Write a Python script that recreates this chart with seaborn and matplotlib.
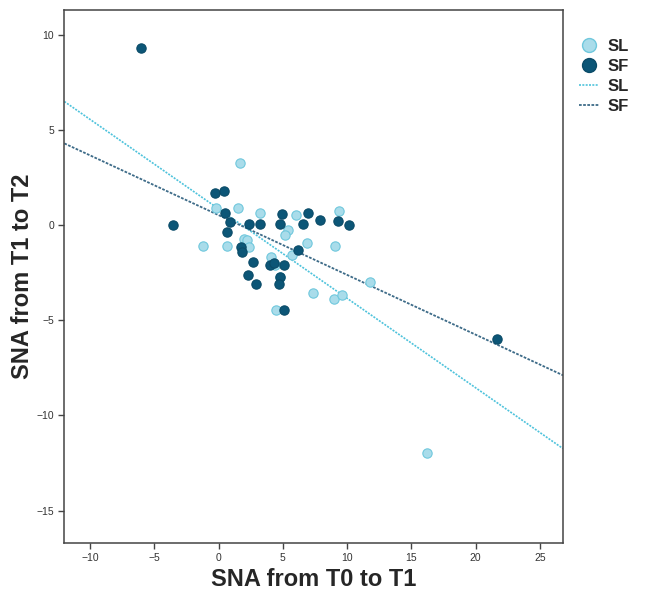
import matplotlib
matplotlib.use("Agg")
import matplotlib.pyplot as plt
import seaborn as sns
import pandas as pd
from matplotlib.lines import Line2D

# data (SNA change T0->T1 vs T1->T2)
sl_x = [1.66, -0.23, 1.5, 3.2, 6.0, 9.36, 5.4, 5.2, -1.19, 0.67, 1.97, 2.2, 2.36,
        6.9, 9.05, 5.68, 4.1, 4.43, 4.8, 7.33, 9.0, 9.6, 11.77, 4.5, 16.2]
sl_y = [3.25, 0.88, 0.91, 0.65, 0.53, 0.74, -0.23, -0.53, -1.1, -1.1, -0.7, -0.79, -1.14,
        -0.96, -1.1, -1.58, -1.67, -2.1, -2.7, -3.54, -3.86, -3.65, -2.98, -4.47, -11.95]
sf_x = [-6.07, -0.26, 0.41, 0.54, 0.93, 0.67, 2.36, 3.19, 4.95, 4.82, 6.97, 6.58, 7.93,
        9.28, 10.13, 1.71, 1.84, 6.17, 2.7, 4.04, 4.35, 5.08, 4.82, 4.69, 2.31, 2.95,
        5.13, -3.58, 21.7]
sf_y = [9.3, 1.67, 1.8, 0.65, 0.18, -0.35, 0.04, 0.04, 0.58, 0.04, 0.65, 0.04, 0.26,
        0.21, 0.0, -1.14, -1.4, -1.28, -1.93, -2.1, -2.0, -2.1, -2.72, -3.1, -2.6, -3.07,
        -4.47, 0.0, -6.0]

# fitted lines (intercept, slope)
sl_fit = (0.86, -0.47)
sf_fit = (0.53, -0.314)

groups = ["SL", "SF"]
fill = {"SL": "#a9dcea", "SF": "#0c5677"}
edge = {"SL": "#70c8dd", "SF": "#0a4b68"}
line_col = {"SL": "#4fc3dc", "SF": "#3d6b88"}

df = pd.DataFrame({
    "x": sl_x + sf_x,
    "y": sl_y + sf_y,
    "group": ["SL"] * len(sl_x) + ["SF"] * len(sf_x),
})

sns.set_style("ticks")
plt.rcParams["font.family"] = ["Liberation Sans", "DejaVu Sans"]

fig = plt.figure(figsize=(6.5, 5.98), dpi=100)
ax = fig.add_axes([0.099, 0.092, 0.767, 0.891])

for g in groups:
    sub = df[df["group"] == g]
    sns.scatterplot(data=sub, x="x", y="y", ax=ax, color=fill[g], edgecolor=edge[g],
                    linewidth=0.8, s=45, zorder=3, legend=False)

ax.axline((0, sl_fit[0]), slope=sl_fit[1], color=line_col["SL"], lw=1.2,
          linestyle=(0, (1.2, 0.8)), zorder=2)
ax.axline((0, sf_fit[0]), slope=sf_fit[1], color=line_col["SF"], lw=1.3,
          linestyle=(0, (1.5, 0.8)), zorder=2)

ax.set_xlim(-12, 26.8)
ax.set_ylim(-16.7, 11.3)
ax.set_xticks([-10, -5, 0, 5, 10, 15, 20, 25])
ax.set_yticks([10, 5, 0, -5, -10, -15])
ax.tick_params(labelsize=7.5, length=4, width=1, color="#444444", labelcolor="#333333")
for sp in ax.spines.values():
    sp.set_visible(True)
    sp.set_color("#444444")
    sp.set_linewidth(1.1)

ax.set_xlabel("SNA from T0 to T1", fontsize=17, fontweight="bold", labelpad=3)
ax.set_ylabel("SNA from T1 to T2", fontsize=17, fontweight="bold", labelpad=2)

handles = [
    Line2D([], [], marker="o", ls="", markersize=10, markerfacecolor=fill["SL"],
           markeredgecolor=edge["SL"]),
    Line2D([], [], marker="o", ls="", markersize=10, markerfacecolor=fill["SF"],
           markeredgecolor=edge["SF"]),
    Line2D([], [], color=line_col["SL"], lw=1.2, ls=(0, (1.2, 0.8))),
    Line2D([], [], color=line_col["SF"], lw=1.3, ls=(0, (1.5, 0.8))),
]
fig.legend(handles, ["SL", "SF", "SL", "SF"], loc="upper left",
           bbox_to_anchor=(0.868, 0.96), frameon=False,
           prop={"size": 12, "weight": "bold"},
           handlelength=1.2, handletextpad=0.5, labelspacing=0.3)

fig.savefig("out.png", dpi=100)
